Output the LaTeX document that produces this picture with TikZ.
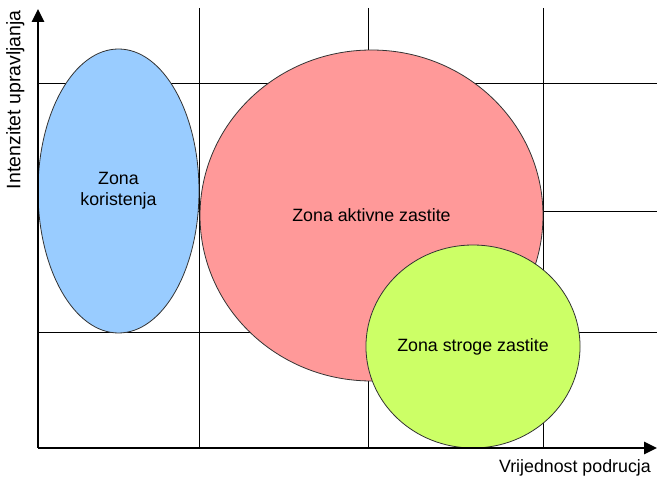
\documentclass[tikz,border=0pt]{standalone}
\usepackage{fontspec}
\setmainfont{Liberation Sans}
\usetikzlibrary{arrows.meta}
\usetikzlibrary{shapes.geometric}

\definecolor{zoneblue}{RGB}{153,204,255}
\definecolor{zonered}{RGB}{255,153,153}
\definecolor{zonegreen}{RGB}{204,255,102}

\tikzset{
  zone/.style={ellipse, draw=black!80, line width=.8pt, inner sep=0pt, align=center,
    font=\fontsize{17.8}{21}\selectfont},
  gridline/.style={black, line width=.9pt},
  axis/.style={black, line width=2.8pt, -{Triangle[length=13pt, width=12pt]}}
}

\begin{document}
\begin{tikzpicture}[x=1pt, y=-1pt]
\useasboundingbox (0,0) rectangle (657,481);

\coordinate (o) at (38,448);
\coordinate (xend) at (657,448);
\coordinate (yend) at (38,9);

% grid
\foreach \x in {199, 368, 543} \draw[gridline] (\x,8) -- (\x,448);
\foreach \y in {83, 211, 332} \draw[gridline] (38,\y) -- (657,\y);

% zones
\node[zone, fill=zoneblue, minimum width=161, minimum height=284] (kor) at (118.5,191) {Zona\\koristenja};
\node[zone, fill=zonered, minimum width=343, minimum height=331] (akt) at (371.5,215.5) {Zona aktivne zastite};
\node[zone, fill=zonegreen, minimum width=210, minimum height=203] (str) at (473,346.5) {Zona stroge zastite};

% axes
\draw[axis] (o) -- (xend);
\draw[axis] (o) -- (yend);
\node[anchor=north east, inner sep=0pt, font=\fontsize{17.8}{21}\selectfont] (xlab) at (651,459) {Vrijednost podrucja};
\node[anchor=north east, rotate=90, inner sep=0pt, font=\fontsize{19.5}{23}\selectfont] (ylab) at (6,10) {Intenzitet upravljanja};

\end{tikzpicture}
\end{document}
